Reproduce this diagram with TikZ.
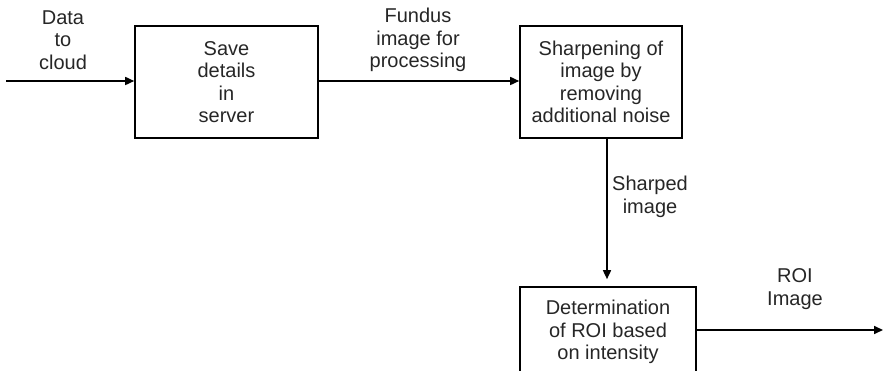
\documentclass[tikz,border=0pt]{standalone}
\usepackage{fontspec}
\setmainfont{Liberation Sans}
\usetikzlibrary{arrows.meta}
\begin{document}
\begin{tikzpicture}[x=1pt,y=-1pt,
  stagebox/.style={draw, line width=1.6pt, inner sep=0pt, align=center,
    font=\fontsize{20}{22.5}\selectfont, text=black!85},
  flowlabel/.style={align=center, inner sep=0pt,
    font=\fontsize{20}{22.5}\selectfont, text=black!85},
  flow/.style={line width=1.6pt, -{Triangle[length=9pt,width=8pt]}}]
\useasboundingbox (0,0) rectangle (883,371);
\clip (0,0) rectangle (883,371);

% processing stages
\node[stagebox, minimum width=183pt, minimum height=112pt] (save) at (226.5,82)
  {Save\\details\\in\\server};
\node[stagebox, minimum width=162pt, minimum height=112pt] (sharpen) at (601,82)
  {Sharpening of\\image by\\removing\\additional noise};
\node[stagebox, minimum width=176pt, minimum height=90pt] (roi) at (608,332)
  {Determination\\of ROI based\\on intensity};

% free ends of the input and output flows
\coordinate (in) at (6,81);
\coordinate (out) at (883,330);

% connectors
\draw[flow] (in) -- (in -| save.west);
\draw[flow] (save.east |- 0,81) -- (sharpen.west |- 0,81);
\draw[flow, shorten >=7pt] (sharpen.south -| 607,0) -- (roi.north -| 607,0);
\draw[flow] (roi.east |- out) -- (out);

% connector labels
\node[flowlabel] (lblin) at (63,40) {Data\\to\\cloud};
\node[flowlabel] (lblfundus) at (418,40) {Fundus\\image for\\processing};
\node[flowlabel, anchor=west] (lblsharp) at (612,197) {Sharped\\image};
\node[flowlabel] (lblroi) at (795,289) {ROI\\Image};
\end{tikzpicture}
\end{document}
